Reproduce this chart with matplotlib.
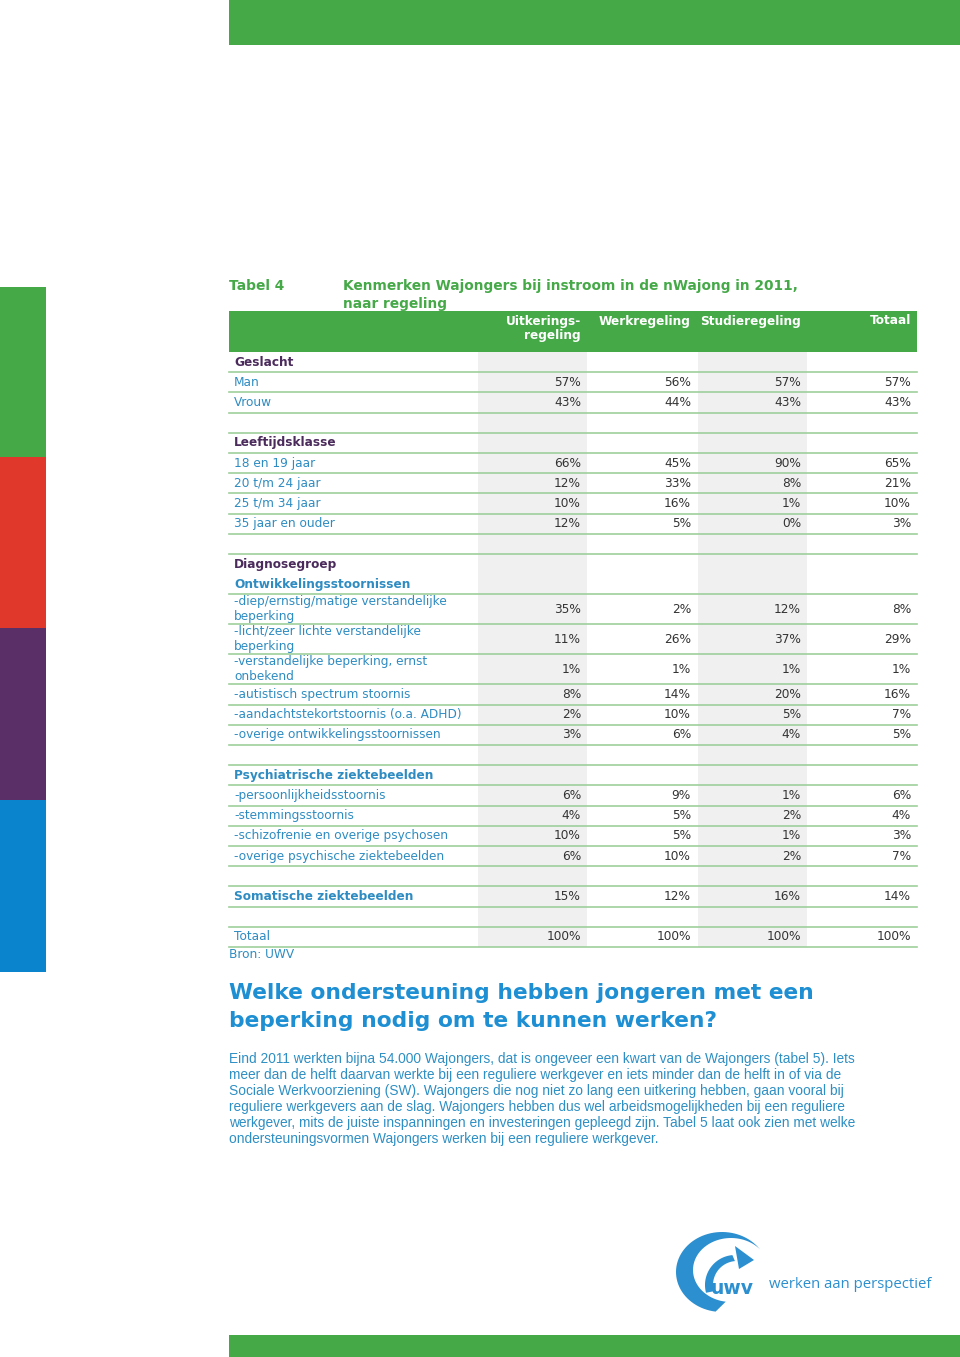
import matplotlib
matplotlib.use('Agg')
import numpy as np
import matplotlib.pyplot as plt
from matplotlib.patches import Rectangle, Polygon

# table data (None = header/blank row)
row_labels = ['Geslacht', 'Man', 'Vrouw', '',
              'Leeftijdsklasse', '18 en 19 jaar', '20 t/m 24 jaar', '25 t/m 34 jaar', '35 jaar en ouder', '',
              'Diagnosegroep', 'Ontwikkelingsstoornissen',
              '-diep/ernstig/matige verstandelijke\nbeperking',
              '-licht/zeer lichte verstandelijke\nbeperking',
              '-verstandelijke beperking, ernst\nonbekend',
              '-autistisch spectrum stoornis',
              '-aandachtstekortstoornis (o.a. ADHD)',
              '-overige ontwikkelingsstoornissen', '',
              'Psychiatrische ziektebeelden',
              '-persoonlijkheidsstoornis', '-stemmingsstoornis',
              '-schizofrenie en overige psychosen', '-overige psychische ziektebeelden', '',
              'Somatische ziektebeelden', '', 'Totaal']
row_kinds = ['sec', 'row', 'row', 'blank',
             'sec', 'row', 'row', 'row', 'row', 'blank',
             'sec', 'sub', 'row', 'row', 'row', 'row', 'row', 'row', 'blank',
             'sub', 'row', 'row', 'row', 'row', 'blank',
             'sub', 'blank', 'row']
uitkering = [None, 57, 43, None, None, 66, 12, 10, 12, None, None, None,
             35, 11, 1, 8, 2, 3, None, None, 6, 4, 10, 6, None, 15, None, 100]
werk = [None, 56, 44, None, None, 45, 33, 16, 5, None, None, None,
        2, 26, 1, 14, 10, 6, None, None, 9, 5, 5, 10, None, 12, None, 100]
studie = [None, 57, 43, None, None, 90, 8, 1, 0, None, None, None,
          12, 37, 1, 20, 5, 4, None, None, 1, 2, 1, 2, None, 16, None, 100]
totaal = [None, 57, 43, None, None, 65, 21, 10, 3, None, None, None,
          8, 29, 1, 16, 7, 5, None, None, 6, 4, 3, 7, None, 14, None, 100]
columns = [('Uitkerings-\nregeling', uitkering), ('Werkregeling', werk),
           ('Studieregeling', studie), ('Totaal', totaal)]

paragraph = [
    'Eind 2011 werkten bijna 54.000 Wajongers, dat is ongeveer een kwart van de Wajongers (tabel 5). Iets',
    'meer dan de helft daarvan werkte bij een reguliere werkgever en iets minder dan de helft in of via de',
    'Sociale Werkvoorziening (SW). Wajongers die nog niet zo lang een uitkering hebben, gaan vooral bij',
    'reguliere werkgevers aan de slag. Wajongers hebben dus wel arbeidsmogelijkheden bij een reguliere',
    'werkgever, mits de juiste inspanningen en investeringen gepleegd zijn. Tabel 5 laat ook zien met welke',
    'ondersteuningsvormen Wajongers werken bij een reguliere werkgever.',
]

GREEN = '#45a948'
LINE = '#9fcf9c'
BLUE = '#2e8cc2'
PURPLE = '#4b2b5c'
GREY = '#f0f0f0'
FS = 8.7

fig = plt.figure(figsize=(9.6, 13.57), dpi=100)
ax = fig.add_axes([0, 0, 1, 1])
ax.set_xlim(0, 960)
ax.set_ylim(1357, 0)
ax.axis('off')

# page decoration
ax.add_patch(Rectangle((229, 0), 731, 45, color=GREEN, lw=0))
ax.add_patch(Rectangle((229, 1335), 731, 22, color=GREEN, lw=0))
for y0, y1, c in [(287, 457, GREEN), (457, 628, '#e0392b'),
                  (628, 800, '#5a2f68'), (800, 972, '#0a84cc')]:
    ax.add_patch(Rectangle((0, y0), 46, y1 - y0, color=c, lw=0))

# title
ax.text(229, 286, 'Tabel 4', color=GREEN, fontsize=9.9, fontweight='bold', va='center')
ax.text(343, 286, 'Kenmerken Wajongers bij instroom in de nWajong in 2011,',
        color=GREEN, fontsize=9.9, fontweight='bold', va='center')
ax.text(343, 304, 'naar regeling', color=GREEN, fontsize=9.9, fontweight='bold', va='center')

# header
x_left, x_right = 229, 917
ax.add_patch(Rectangle((x_left, 311), x_right - x_left, 41, color=GREEN, lw=0))
col_right = [581, 691, 801, 911]
for (name, _), xr in zip(columns, col_right):
    for k, part in enumerate(name.split('\n')):
        ax.text(xr, 321 + 15 * k, part, color='white', fontsize=FS, fontweight='bold',
                ha='right', va='center')

# row geometry
tops = []
y = 352
for lab in row_labels:
    tops.append(y)
    y += 30 if '\n' in lab else 20.2
bottom = y

# grey column bands
for xb in (478, 698):
    ax.add_patch(Rectangle((xb, 352), 109, bottom - 352, color=GREY, lw=0))

for i, (lab, kind) in enumerate(zip(row_labels, row_kinds)):
    h = 30 if '\n' in lab else 20.2
    yc = tops[i] + h / 2
    if kind == 'sec':
        ax.text(234, yc, lab, color=PURPLE, fontsize=FS, fontweight='bold', va='center')
    elif kind == 'sub':
        ax.text(234, yc, lab, color=BLUE, fontsize=FS, fontweight='bold', va='center')
    elif kind == 'row':
        for k, part in enumerate(lab.split('\n')):
            off = 0 if '\n' not in lab else (-7.5 + 15 * k)
            ax.text(234, yc + off, part, color=BLUE, fontsize=FS, va='center')
    for (_, vals), xr in zip(columns, col_right):
        if vals[i] is not None:
            ax.text(xr, yc, f'{vals[i]}%', color='#333333', fontsize=FS,
                    ha='right', va='center')
    if lab != 'Diagnosegroep':
        ax.plot([x_left, x_right], [tops[i] + h, tops[i] + h], color=LINE, lw=1.2)

ax.text(229, 955, 'Bron: UWV', color=BLUE, fontsize=FS, va='center')

# heading + paragraph
ax.text(229, 993, 'Welke ondersteuning hebben jongeren met een', color='#1d8fd2',
        fontsize=15.7, fontweight='bold', va='center')
ax.text(229, 1021, 'beperking nodig om te kunnen werken?', color='#1d8fd2',
        fontsize=15.7, fontweight='bold', va='center')
for k, line in enumerate(paragraph):
    ax.text(229, 1059 + 16 * k, line, color='#2d8fc4', fontsize=9.9,
            family='Liberation Sans', va='center')

# logo
LOGO = '#2b8fd0'


def arc(cx, cy, rx, ry, t0, t1, n=60):
    t = np.radians(np.linspace(t0, t1, n))
    return np.column_stack([cx + rx * np.cos(t), cy - ry * np.sin(t)])


outer = arc(722, 1272, 46, 40, 262, 40)
inner = arc(731, 1270, 38, 32, 40, 262)
ax.add_patch(Polygon(np.vstack([outer, inner]), closed=True, color=LOGO, lw=0))
shaft_o = arc(735, 1285, 30, 30, 195, 95)
shaft_i = arc(737, 1285, 24, 24, 95, 195)
ax.add_patch(Polygon(np.vstack([shaft_o, shaft_i]), closed=True, color=LOGO, lw=0))
ax.add_patch(Polygon([(735, 1246), (754, 1260), (739, 1269)], closed=True, color=LOGO, lw=0))
ax.text(711, 1289, 'uwv', color=LOGO, fontsize=13.5, fontweight='bold', va='center')
ax.text(769, 1285, 'werken aan perspectief', color=LOGO, fontsize=10.7,
        family='Open Sans', va='center')

fig.savefig('out.png', dpi=100, facecolor='white')
